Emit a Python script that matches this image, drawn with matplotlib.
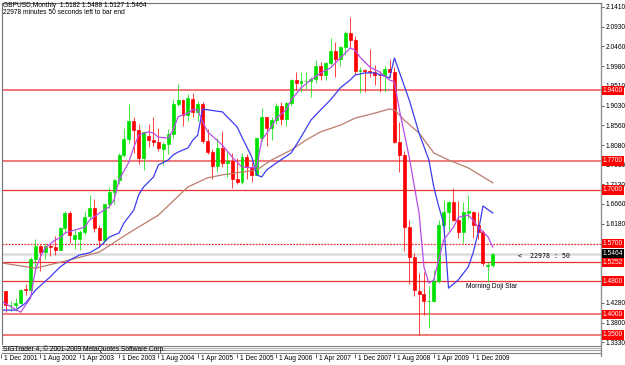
import matplotlib
matplotlib.use("Agg")
import matplotlib.pyplot as plt
from matplotlib.transforms import blended_transform_factory

W, H = 625, 365

# monthly candles, Dec 2001 .. Apr 2010 (bar index 0..100)
opens = [1.4240, 1.4550, 1.4220, 1.4230, 1.4260, 1.4620, 1.4580, 1.5340, 1.5640, 1.5490,
         1.5650, 1.5610, 1.5560, 1.6090, 1.6440, 1.5810, 1.5810, 1.5980, 1.6380, 1.6550,
         1.6080, 1.5800, 1.6660, 1.6950, 1.7240, 1.7840, 1.8220, 1.8660, 1.8440, 1.7770,
         1.8300, 1.8200, 1.8150, 1.7990, 1.8100, 1.8350, 1.9080, 1.9170, 1.8810, 1.9200,
         1.8880, 1.9080, 1.8180, 1.7910, 1.7570, 1.8010, 1.7650, 1.7700, 1.7270, 1.7200,
         1.7780, 1.7550, 1.7360, 1.8240, 1.8750, 1.8500, 1.8690, 1.9030, 1.8720, 1.9090,
         1.9640, 1.9570, 1.9620, 1.9630, 1.9680, 1.9990, 1.9780, 2.0070, 2.0340, 2.0150,
         2.0440, 2.0790, 2.0610, 1.9860, 1.9880, 1.9860, 1.9840, 1.9780, 1.9770, 1.9910,
         1.9830, 1.8150, 1.7840, 1.6100, 1.5370, 1.4570, 1.4490, 1.4310, 1.4330, 1.4800,
         1.6160, 1.6460, 1.6710, 1.6280, 1.5980, 1.6440, 1.6460, 1.6150, 1.5990, 1.5170,
         1.5182]
highs = [1.4560, 1.4560, 1.4330, 1.4380, 1.4600, 1.4740, 1.5390, 1.5810, 1.5660, 1.5710,
         1.5710, 1.5880, 1.6110, 1.6500, 1.6480, 1.6050, 1.6020, 1.6500, 1.6880, 1.6780,
         1.6160, 1.6670, 1.7060, 1.7260, 1.7880, 1.8490, 1.9080, 1.8750, 1.8590, 1.8410,
         1.8580, 1.8760, 1.8500, 1.8150, 1.8460, 1.9180, 1.9550, 1.9200, 1.9310, 1.9330,
         1.9150, 1.9120, 1.8470, 1.7980, 1.8240, 1.8420, 1.7920, 1.7890, 1.7770, 1.7880,
         1.7870, 1.7660, 1.8260, 1.8980, 1.8760, 1.8760, 1.9100, 1.9120, 1.9120, 1.9670,
         1.9850, 1.9850, 1.9840, 1.9710, 2.0130, 2.0080, 2.0080, 2.0660, 2.0560, 2.0460,
         2.0840, 2.1160, 2.0700, 1.9970, 1.9920, 2.0400, 2.0000, 1.9860, 1.9980, 2.0160,
         1.9970, 1.8640, 1.7930, 1.6280, 1.5470, 1.5000, 1.5020, 1.4680, 1.5060, 1.6280,
         1.6750, 1.6740, 1.7040, 1.6740, 1.6700, 1.6880, 1.6500, 1.6460, 1.6030, 1.5260,
         1.5488]
lows = [1.4180, 1.4050, 1.4080, 1.4080, 1.4240, 1.4470, 1.4570, 1.5120, 1.5050, 1.5320,
        1.5400, 1.5440, 1.5540, 1.5960, 1.5710, 1.5580, 1.5550, 1.5910, 1.6300, 1.5990,
        1.5620, 1.5720, 1.6550, 1.6650, 1.7150, 1.7780, 1.8120, 1.7880, 1.7620, 1.7480,
        1.8030, 1.8050, 1.7940, 1.7590, 1.7860, 1.8250, 1.9010, 1.8530, 1.8660, 1.8750,
        1.8660, 1.8130, 1.7870, 1.7270, 1.7440, 1.7550, 1.7320, 1.7040, 1.7150, 1.7150,
        1.7260, 1.7200, 1.7350, 1.8180, 1.8050, 1.8200, 1.8590, 1.8570, 1.8530, 1.9010,
        1.9400, 1.9350, 1.9440, 1.9240, 1.9580, 1.9650, 1.9650, 2.0010, 1.9720, 1.9980,
        2.0240, 2.0430, 1.9770, 1.9340, 1.9360, 1.9720, 1.9520, 1.9350, 1.9370, 1.9730,
        1.8130, 1.7440, 1.5520, 1.4720, 1.4440, 1.3500, 1.3980, 1.3660, 1.4290, 1.4750,
        1.5920, 1.6000, 1.6260, 1.5850, 1.5710, 1.6300, 1.5830, 1.5820, 1.5160, 1.4780,
        1.5127]
closes = [1.4550, 1.4230, 1.4230, 1.4260, 1.4580, 1.4580, 1.5340, 1.5640, 1.5490, 1.5650,
          1.5610, 1.5560, 1.6090, 1.6440, 1.5900, 1.5910, 1.5980, 1.6340, 1.6560, 1.6080,
          1.5800, 1.6660, 1.6950, 1.7240, 1.7840, 1.8220, 1.8660, 1.8440, 1.7770, 1.8390,
          1.8200, 1.8150, 1.8000, 1.8100, 1.8350, 1.9080, 1.9170, 1.8810, 1.9210, 1.8880,
          1.9080, 1.8180, 1.7910, 1.7570, 1.8010, 1.7650, 1.7700, 1.7270, 1.7200, 1.7780,
          1.7550, 1.7360, 1.8240, 1.8750, 1.8500, 1.8690, 1.9030, 1.8720, 1.9090, 1.9640,
          1.9570, 1.9620, 1.9630, 1.9680, 1.9990, 1.9780, 2.0070, 2.0340, 2.0150, 2.0440,
          2.0790, 2.0610, 1.9860, 1.9880, 1.9860, 1.9840, 1.9780, 1.9770, 1.9910, 1.9830,
          1.8150, 1.7840, 1.6100, 1.5370, 1.4580, 1.4490, 1.4310, 1.4330, 1.4800, 1.6160,
          1.6460, 1.6710, 1.6280, 1.5980, 1.6460, 1.6490, 1.6150, 1.5990, 1.5240, 1.5182,
          1.5464]

# indicator lines (bar index, price)
violet_idx = [0, 2, 4, 6, 7, 8, 9, 11, 12, 13, 15, 17, 18, 20, 22, 23, 24, 26, 27, 28,
              30, 31, 32, 34, 35, 36, 38, 39, 40, 41, 42, 45, 47, 49, 51, 52, 53, 55, 56, 58,
              59, 61, 63, 65, 67, 69, 71, 72, 73, 75, 77, 79, 80, 81, 83, 85, 86, 87, 88, 89,
              90, 92, 93, 95, 96, 97, 99, 100]
violet_val = [1.432, 1.418, 1.405, 1.439, 1.507, 1.538, 1.560, 1.579, 1.584, 1.596,
              1.603, 1.610, 1.627, 1.644, 1.659, 1.676, 1.724, 1.767, 1.803, 1.832,
              1.840, 1.837, 1.827, 1.825, 1.844, 1.876, 1.885, 1.893, 1.893, 1.864,
              1.840, 1.808, 1.779, 1.755, 1.753, 1.755, 1.820, 1.852, 1.873, 1.893,
              1.917, 1.946, 1.965, 1.982, 1.994, 2.018, 2.042, 2.037, 2.020, 1.996,
              1.984, 1.965, 1.960, 1.893, 1.779, 1.644, 1.514, 1.475, 1.483, 1.531,
              1.579, 1.610, 1.634, 1.639, 1.627, 1.610, 1.587, 1.562]
blue_idx = [0, 3, 5, 7, 10, 12, 14, 16, 18, 20, 22, 24, 25, 27, 28, 29, 31, 32, 34, 35,
            36, 38, 39, 40, 41, 42, 45, 48, 49, 51, 52, 53, 54, 56, 59, 61, 63, 65, 67, 69,
            71, 72, 74, 76, 79, 80, 81, 83, 85, 87, 88, 89, 90, 91, 93, 95, 96, 97, 98, 100]
blue_val = [1.410, 1.410, 1.427, 1.458, 1.490, 1.514, 1.531, 1.543, 1.548, 1.562,
            1.586, 1.596, 1.620, 1.651, 1.688, 1.707, 1.731, 1.760, 1.772, 1.784,
            1.791, 1.801, 1.820, 1.832, 1.895, 1.893, 1.888, 1.852, 1.827, 1.779,
            1.736, 1.731, 1.748, 1.765, 1.789, 1.827, 1.868, 1.893, 1.917, 1.946,
            1.965, 1.977, 1.982, 1.982, 1.970, 2.018, 1.984, 1.917, 1.837, 1.772,
            1.707, 1.660, 1.620, 1.463, 1.483, 1.514, 1.548, 1.596, 1.661, 1.644]
brown_idx = [0, 7, 14, 20, 26, 32, 38, 42, 45, 49, 52, 55, 59, 62, 65, 69, 72, 76, 79, 80,
             82, 85, 88, 91, 95, 100]
brown_val = [1.524, 1.511, 1.531, 1.550, 1.596, 1.639, 1.707, 1.729, 1.736, 1.743,
             1.748, 1.772, 1.796, 1.820, 1.840, 1.856, 1.873, 1.885, 1.895, 1.893,
             1.868, 1.837, 1.789, 1.772, 1.753, 1.717]

level_prices = [1.9400, 1.7700, 1.7000, 1.5700, 1.5252, 1.4800, 1.4000, 1.3500]
level_labels = ["1.9400", "1.7700", "1.7000", "1.5700", "1.5252", "1.4800", "1.4000", "1.3500"]
bid_price = 1.5464

# scale labels that stay visible (the rest sit under the red price boxes)
ytick_vals = [2.1410, 2.0930, 2.0460, 1.9980, 1.9510, 1.9030, 1.8560, 1.8080, 1.7610,
              1.7130, 1.6660, 1.6180, 1.4280, 1.3800, 1.3330]

time_ticks = [0, 8, 16, 24, 32, 40, 48, 56, 64, 72, 80, 88, 96]
time_labels = ["1 Dec 2001", "1 Aug 2002", "1 Apr 2003", "1 Dec 2003", "1 Aug 2004",
               "1 Apr 2005", "1 Dec 2005", "1 Aug 2006", "1 Apr 2007", "1 Dec 2007",
               "1 Aug 2008", "1 Apr 2009", "1 Dec 2009"]

plt.rcParams["font.family"] = ["Liberation Sans", "DejaVu Sans"]
FS = 4.8

fig = plt.figure(figsize=(W / 100, H / 100), dpi=100, facecolor="white")
ax = fig.add_axes([2 / W, 1 - 344 / H, 599 / W, 341 / H])
XLIM = (0.2, 122.0)
ax.set_xlim(*XLIM)
ax.set_ylim(1.3282, 2.1506)

# support / resistance lines
level_styles = {1.9400: ("#f06a6a", 1.3, "-"), 1.7700: ("#f07070", 1.3, "-"),
                1.5700: ("#e83030", 0.9, (0, (1.5, 1))), 1.4000: ("#f07070", 1.3, "-"),
                1.3500: ("#f07070", 1.3, "-")}
for p in level_prices:
    c, lw, ls = level_styles.get(p, ("#e83030", 0.9, "-"))
    ax.axhline(p, color=c, lw=lw, ls=ls, zorder=1)
ax.axhline(bid_price, color="#dcdcdc", lw=1.8, zorder=0.5)

# candles
x = list(range(len(closes)))
cols = ["#00e000" if c >= o else "#ff0000" for o, c in zip(opens, closes)]
ax.vlines(x, lows, highs, colors=cols, lw=0.7, alpha=0.75, zorder=2)
bottoms = [min(o, c) for o, c in zip(opens, closes)]
heights = [abs(c - o) for o, c in zip(opens, closes)]
ax.bar(x, heights, bottom=bottoms, width=0.6, color=cols, edgecolor=cols, lw=0.5, zorder=3)

# moving averages
ax.plot(brown_idx, brown_val, color="#bb7b6c", lw=0.9, zorder=4)
ax.plot(blue_idx, blue_val, color="#3c3cf0", lw=0.9, zorder=4)
ax.plot(violet_idx, violet_val, color="#b84ee8", lw=0.9, zorder=4)

# frame and price scale
for s in ("top", "bottom", "left"):
    ax.spines[s].set_visible(False)
ax.spines["right"].set_color("#909090")
ax.spines["right"].set_linewidth(1.0)
ax.set_xticks([])
ax.yaxis.tick_right()
ax.set_yticks(ytick_vals)
ax.set_yticklabels([f"{v:.4f}" for v in ytick_vals])
ax.tick_params(axis="y", length=2, width=0.6, color="#404040", labelsize=FS, pad=1.5)
fig.add_artist(plt.Line2D([2 / W, 601 / W], [1 - 3 / H, 1 - 3 / H], color="#707070", lw=0.8))
fig.add_artist(plt.Line2D([2 / W, 2 / W], [1 - 3 / H, 1 - 344 / H], color="#707070", lw=0.8))

tr = blended_transform_factory(ax.transAxes, ax.transData)
for p, lab in zip(level_prices, level_labels):
    ax.text(1.003, p, lab, transform=tr, ha="left", va="center", color="white", fontsize=FS,
            bbox=dict(boxstyle="square,pad=0.18", fc="#ff0000", ec="none"), zorder=10, clip_on=False)
ax.text(1.003, bid_price, f"{bid_price:.4f}", transform=tr, ha="left", va="center", color="white",
        fontsize=FS, bbox=dict(boxstyle="square,pad=0.18", fc="#000000", ec="none"), zorder=10,
        clip_on=False)

ax.text(105.2, 1.5404, "<  22978 : 50", fontsize=FS, family="DejaVu Sans Mono", va="center")
ax.text(94.6, 1.4657, "Morning Doji Star", fontsize=FS, va="center")

fig.text(3 / W, 1 - 5.5 / H, "GBPUSD,Monthly  1.5182 1.5488 1.5127 1.5464", fontsize=FS, va="center")
fig.text(3 / W, 1 - 13 / H, "22978 minutes 50 seconds left to bar end", fontsize=FS, va="center")

# time scale strip
axt = fig.add_axes([2 / W, 0, 599 / W, 21 / H])
axt.set_xlim(*XLIM)
axt.set_ylim(21, 0)
axt.axis("off")
for yy, c in ((1.5, "#808080"), (3.5, "#b0b0b0"), (6, "#a0a0a0"), (8.5, "#808080")):
    axt.axhline(yy, color=c, lw=0.8)
axt.text(0.5, 5, "SIGTrader 4, \u00a9 2001-2009 MetaQuotes Software Corp.", fontsize=FS,
         va="center", ha="left")
axt.vlines(time_ticks, 10, 14, color="#404040", lw=0.6, clip_on=False)
for t, lab in zip(time_ticks, time_labels):
    axt.annotate(lab, (t, 14), xytext=(2, 0), textcoords="offset points", fontsize=FS,
                 va="center", ha="left", annotation_clip=False)
fig.add_artist(plt.Line2D([601 / W, 601 / W], [1 - 344 / H, 1 - 356 / H], color="#909090", lw=1.0))

fig.savefig("out.png", dpi=100, facecolor="white")
